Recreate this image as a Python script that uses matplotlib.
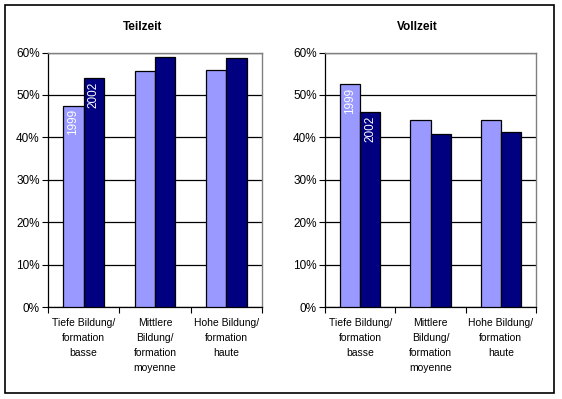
import matplotlib
matplotlib.use("Agg")
import matplotlib.pyplot as plt
import numpy as np
from matplotlib.patches import Rectangle

plt.rcParams['font.family'] = ['Liberation Sans', 'DejaVu Sans']

categories = ["Tiefe Bildung/\nformation\nbasse", "Mittlere\nBildung/\nformation\nmoyenne", "Hohe Bildung/\nformation\nhaute"]
years = ["1999", "2002"]
teilzeit_1999 = [47.5, 55.7, 55.9]
teilzeit_2002 = [54.0, 58.9, 58.7]
vollzeit_1999 = [52.5, 44.2, 44.2]
vollzeit_2002 = [45.9, 40.9, 41.2]
yticks = [0, 10, 20, 30, 40, 50, 60]

c1999 = "#9999FF"
c2002 = "#000080"

W, H = 562, 399
fig = plt.figure(figsize=(W / 100, H / 100), dpi=100)
fig.patch.set_facecolor("white")

fig.add_artist(Rectangle((5 / W, 1 - 393 / H), 549 / W, 388 / H, transform=fig.transFigure,
                         fill=False, edgecolor="black", linewidth=1.2))

def make_panel(left_px, right_px, title, title_x, v1, v2):
    top, bottom = 52.5, 307
    ax = fig.add_axes([left_px / W, 1 - bottom / H, (right_px - left_px) / W, (bottom - top) / H])
    x = np.arange(len(categories))
    bw = 1 / 3.5
    b1 = ax.bar(x - bw / 2, v1, bw, color=c1999, edgecolor="black", linewidth=0.9, zorder=3)
    b2 = ax.bar(x + bw / 2, v2, bw, color=c2002, edgecolor="black", linewidth=0.9, zorder=3)
    ax.set_xlim(-0.5, len(categories) - 0.5)
    ax.set_ylim(0, 60)
    ax.set_yticks(yticks)
    ax.set_yticklabels([f"{t}%" for t in yticks], fontsize=8.5)
    ax.yaxis.grid(True, color="black", linewidth=0.9, zorder=0)
    ax.set_axisbelow(True)
    ax.set_xticks(x)
    ax.set_xticklabels(categories, fontsize=7.5, linespacing=1.6)
    ax.tick_params(axis="x", length=0, pad=8)
    ax.set_xticks(np.arange(len(categories) + 1) - 0.5, minor=True)
    ax.tick_params(axis="x", which="minor", length=4, width=0.8, direction="out")
    ax.tick_params(axis="y", length=4, width=0.8, direction="out", pad=2)
    for s in ["top", "right"]:
        ax.spines[s].set_color("#808080")
        ax.spines[s].set_linewidth(1.0)
    for s in ["left", "bottom"]:
        ax.spines[s].set_color("black")
        ax.spines[s].set_linewidth(0.9)
    # year labels inside first group
    for bars, lab in zip([b1, b2], years):
        r = bars[0]
        ax.annotate(lab, (r.get_x() + r.get_width() / 2, r.get_height()),
                    xytext=(0, -2.5), textcoords="offset points", rotation=90,
                    ha="center", va="top", color="white", fontsize=8.5, zorder=4)
    fig.text(title_x / W, 1 - 27 / H, title, ha="center", va="center", fontsize=8.5, fontweight="bold")
    return ax

make_panel(48, 262, "Teilzeit", 143, teilzeit_1999, teilzeit_2002)
make_panel(325, 536, "Vollzeit", 417, vollzeit_1999, vollzeit_2002)

fig.savefig("out.png", dpi=100)
